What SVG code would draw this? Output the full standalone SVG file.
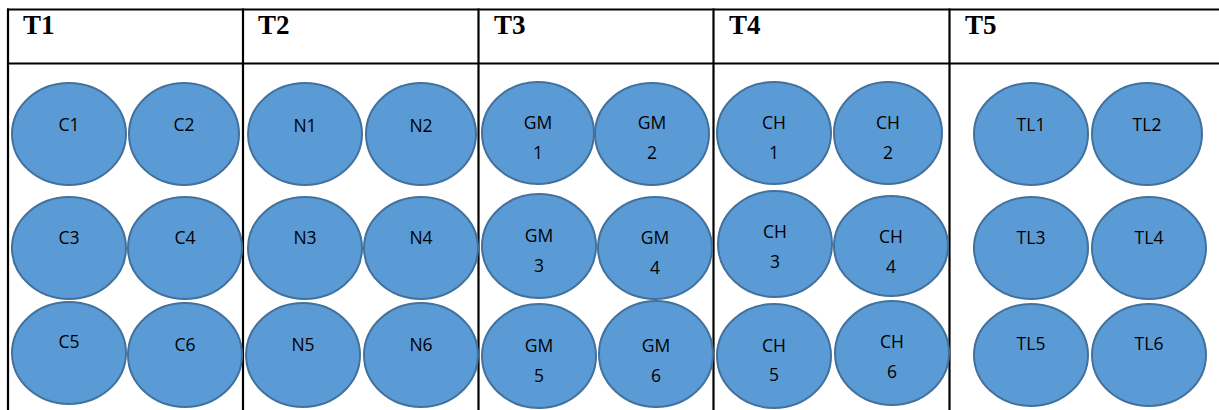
<svg xmlns="http://www.w3.org/2000/svg" width="1219" height="410" viewBox="0 0 1219 410">
<style>
.grid line{stroke:#000;stroke-width:2.2}
.hd{font-family:"Liberation Serif","Times New Roman",serif;font-weight:bold;font-size:27px;fill:#000}
ellipse{fill:#5B9BD5;stroke:#41719C;stroke-width:2}
.lb{font-family:"Open Sans","Liberation Sans",sans-serif;font-size:17.5px;fill:#000;text-anchor:middle}
</style>
<rect width="1219" height="410" fill="#fff"/>
<g class="grid" id="table">
<line x1="7" y1="9.5" x2="1219" y2="9.5"/>
<line x1="7" y1="63.5" x2="1219" y2="63.5"/>
<line x1="8" y1="8.5" x2="8" y2="410"/>
<line x1="243" y1="8.5" x2="243" y2="410"/>
<line x1="478.5" y1="8.5" x2="478.5" y2="410"/>
<line x1="713.5" y1="8.5" x2="713.5" y2="410"/>
<line x1="949.5" y1="8.5" x2="949.5" y2="410"/>
</g>
<g id="headers">
<text class="hd" x="23" y="34">T1</text>
<text class="hd" x="258" y="34">T2</text>
<text class="hd" x="494" y="34">T3</text>
<text class="hd" x="729" y="34">T4</text>
<text class="hd" x="965" y="34">T5</text>
</g>
<g id="connectors"></g>
<g id="C1"><ellipse cx="69" cy="134" rx="57" ry="51"/><text class="lb" x="69" y="131">C1</text></g>
<g id="C2"><ellipse cx="184" cy="134" rx="55" ry="51"/><text class="lb" x="184" y="131">C2</text></g>
<g id="C3"><ellipse cx="69" cy="248" rx="57" ry="51"/><text class="lb" x="69" y="244">C3</text></g>
<g id="C4"><ellipse cx="185" cy="248" rx="57" ry="51"/><text class="lb" x="185" y="244">C4</text></g>
<g id="C5"><ellipse cx="69" cy="353" rx="57" ry="51"/><text class="lb" x="69" y="348">C5</text></g>
<g id="C6"><ellipse cx="185" cy="355" rx="57" ry="52"/><text class="lb" x="185" y="351">C6</text></g>
<g id="N1"><ellipse cx="305" cy="134" rx="57" ry="51"/><text class="lb" x="305" y="132">N1</text></g>
<g id="N2"><ellipse cx="421" cy="134" rx="55" ry="51"/><text class="lb" x="421" y="132">N2</text></g>
<g id="N3"><ellipse cx="305" cy="248" rx="57" ry="51"/><text class="lb" x="305" y="244">N3</text></g>
<g id="N4"><ellipse cx="421" cy="248" rx="57" ry="51"/><text class="lb" x="421" y="244">N4</text></g>
<g id="N5"><ellipse cx="303" cy="355" rx="57" ry="52"/><text class="lb" x="303" y="351">N5</text></g>
<g id="N6"><ellipse cx="421" cy="355" rx="57" ry="52"/><text class="lb" x="421" y="351">N6</text></g>
<g id="GM1"><ellipse cx="538" cy="133" rx="56" ry="51"/><text class="lb" x="538" y="129">GM</text><text class="lb" x="538" y="159">1</text></g>
<g id="GM2"><ellipse cx="652" cy="134" rx="57" ry="51"/><text class="lb" x="652" y="129">GM</text><text class="lb" x="652" y="159">2</text></g>
<g id="GM3"><ellipse cx="539" cy="246" rx="57" ry="52"/><text class="lb" x="539" y="242">GM</text><text class="lb" x="539" y="272">3</text></g>
<g id="GM4"><ellipse cx="655" cy="248" rx="57" ry="51"/><text class="lb" x="655" y="244">GM</text><text class="lb" x="655" y="274">4</text></g>
<g id="GM5"><ellipse cx="539" cy="356" rx="57" ry="52"/><text class="lb" x="539" y="352">GM</text><text class="lb" x="539" y="382">5</text></g>
<g id="GM6"><ellipse cx="656" cy="354" rx="57" ry="53"/><text class="lb" x="656" y="352">GM</text><text class="lb" x="656" y="382">6</text></g>
<g id="CH1"><ellipse cx="774" cy="133" rx="57" ry="51"/><text class="lb" x="774" y="129">CH</text><text class="lb" x="774" y="159">1</text></g>
<g id="CH2"><ellipse cx="888" cy="133" rx="54" ry="51"/><text class="lb" x="888" y="129">CH</text><text class="lb" x="888" y="159">2</text></g>
<g id="CH3"><ellipse cx="775" cy="244" rx="57" ry="53"/><text class="lb" x="775" y="238">CH</text><text class="lb" x="775" y="268">3</text></g>
<g id="CH4"><ellipse cx="891" cy="246" rx="57" ry="50"/><text class="lb" x="891" y="243">CH</text><text class="lb" x="891" y="273">4</text></g>
<g id="CH5"><ellipse cx="774" cy="356" rx="57" ry="52"/><text class="lb" x="774" y="352">CH</text><text class="lb" x="774" y="381">5</text></g>
<g id="CH6"><ellipse cx="892" cy="353" rx="57" ry="52"/><text class="lb" x="892" y="348">CH</text><text class="lb" x="892" y="378">6</text></g>
<g id="TL1"><ellipse cx="1031" cy="134" rx="57" ry="51"/><text class="lb" x="1031" y="131">TL1</text></g>
<g id="TL2"><ellipse cx="1147" cy="134" rx="55" ry="51"/><text class="lb" x="1147" y="131">TL2</text></g>
<g id="TL3"><ellipse cx="1031" cy="248" rx="57" ry="51"/><text class="lb" x="1031" y="244">TL3</text></g>
<g id="TL4"><ellipse cx="1149" cy="248" rx="57" ry="51"/><text class="lb" x="1149" y="244">TL4</text></g>
<g id="TL5"><ellipse cx="1031" cy="355" rx="57" ry="51"/><text class="lb" x="1031" y="350">TL5</text></g>
<g id="TL6"><ellipse cx="1149" cy="355" rx="57" ry="51"/><text class="lb" x="1149" y="350">TL6</text></g>
</svg>
